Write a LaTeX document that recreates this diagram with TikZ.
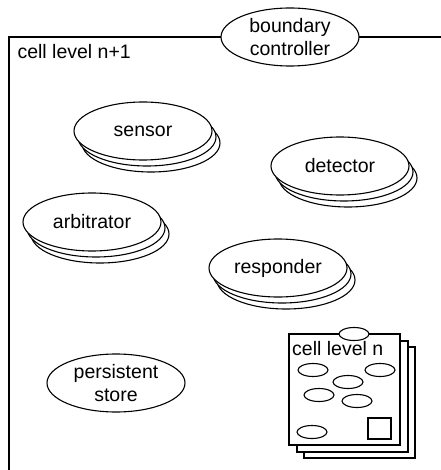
\documentclass[tikz,border=0pt]{standalone}
\usepackage{fontspec}
\setmainfont{Liberation Sans}
\usetikzlibrary{shapes.geometric}
\begin{document}
\begin{tikzpicture}[x=1pt,y=-1pt,
  every node/.style={font=\fontsize{19.5}{23.5}\selectfont},
  ell/.style={ellipse,draw,line width=1.1pt,fill=white,inner sep=0pt,minimum width=138pt,minimum height=58pt,align=center},
  mini/.style={ellipse,draw,line width=1.1pt,fill=white,inner sep=0pt,minimum width=30pt,minimum height=13pt},
  page/.style={rectangle,draw,line width=1.1pt,fill=white,inner sep=0pt,minimum width=111pt,minimum height=111pt},
  sq/.style={rectangle,draw,line width=1.1pt,inner sep=0pt,minimum width=23pt,minimum height=21pt}]
\useasboundingbox (0,0) rectangle (440,470);
\fill[white] (0,0) rectangle (440,470);
% outer cell box
\draw[line width=1.1pt] (445,37) -- (9,37) -- (9,475);
\node[ell] (bc) at (290,37) {boundary\\controller};
\node[anchor=base west] (lbl) at (14,59) {cell level n+1};
% sensor stack
\node[ell] (sensor3) at (151,143) {};
\node[ell] (sensor2) at (147,137) {};
\node[ell] (sensor) at (143,131) {sensor};
% detector stack
\node[ell] (detector3) at (348,178) {};
\node[ell] (detector2) at (344,172) {};
\node[ell] (detector) at (340,166) {detector};
% arbitrator stack
\node[ell] (arb3) at (100,234) {};
\node[ell] (arb2) at (96,228) {};
\node[ell] (arb) at (92,222) {arbitrator};
% responder stack
\node[ell] (resp3) at (286,280) {};
\node[ell] (resp2) at (282,274) {};
\node[ell] (resp) at (278,268) {responder};
% persistent store
\node[ell] (ps) at (116,383) {persistent\\store};
% cell level n stack
\node[page] (p3) at (359.5,402.5) {};
\node[page] (p2) at (352.5,396.5) {};
\node[page] (p1) at (344.5,389.5) {};
\node[mini] (m0) at (354,334) {};
\node[anchor=base west,inner sep=0pt] (lbln) at (292,355) {cell level n};
\node[mini] (m1) at (313,370) {};
\node[mini] (m2) at (380,370) {};
\node[mini] (m3) at (348,382) {};
\node[mini] (m4) at (319,395) {};
\node[mini] (m5) at (357,401) {};
\node[mini] (m6) at (312,432) {};
\node[sq] (sqr) at (379.5,428.5) {};
\end{tikzpicture}
\end{document}
